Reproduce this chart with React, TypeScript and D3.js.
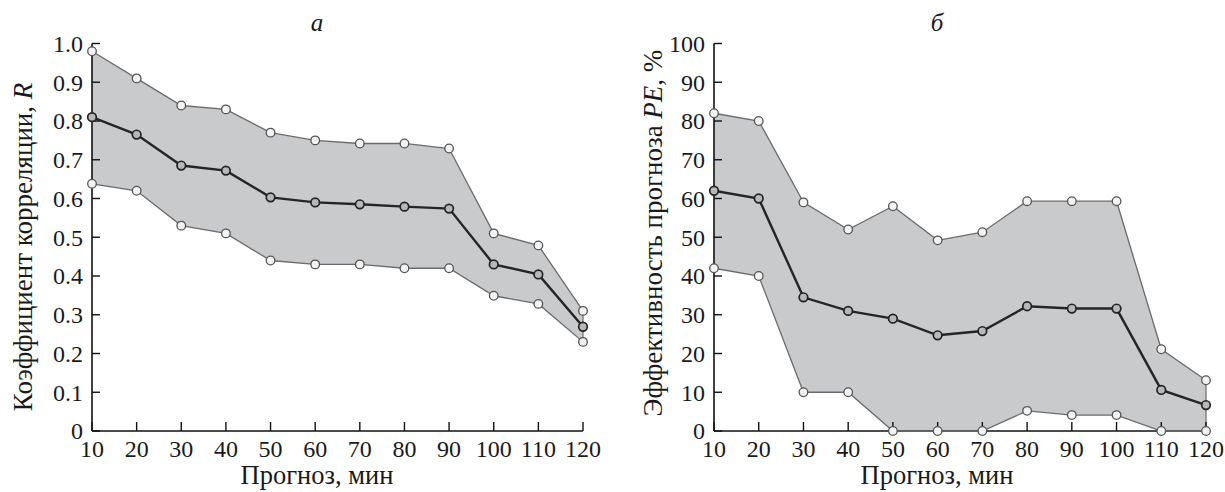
import React from "react";
import * as d3 from "d3";

const leadTimes = [10, 20, 30, 40, 50, 60, 70, 80, 90, 100, 110, 120];

const rUpper = [0.98, 0.91, 0.84, 0.83, 0.77, 0.75, 0.742, 0.742, 0.729, 0.51, 0.479, 0.31];
const rMean = [0.81, 0.765, 0.685, 0.672, 0.603, 0.59, 0.585, 0.579, 0.574, 0.43, 0.404, 0.269];
const rLower = [0.638, 0.62, 0.53, 0.51, 0.44, 0.43, 0.43, 0.42, 0.42, 0.349, 0.328, 0.23];

const peUpper = [82, 80, 59, 52, 58, 49.2, 51.3, 59.3, 59.3, 59.3, 21.1, 13.1];
const peMean = [62, 60, 34.5, 31, 29, 24.7, 25.8, 32.2, 31.6, 31.6, 10.6, 6.7];
const peLower = [42, 40, 10, 10, 0, 0, 0, 5.2, 4.1, 4.1, 0, 0];

const rTicks = [0, 0.1, 0.2, 0.3, 0.4, 0.5, 0.6, 0.7, 0.8, 0.9, 1.0];
const rTickLabels = ["0", "0.1", "0.2", "0.3", "0.4", "0.5", "0.6", "0.7", "0.8", "0.9", "1.0"];
const peTicks = [0, 10, 20, 30, 40, 50, 60, 70, 80, 90, 100];

const FONT = "Liberation Serif, Times New Roman, Times, DejaVu Serif, serif";

type PanelProps = {
  x0: number;
  x1: number;
  yMax: number;
  upper: number[];
  mean: number[];
  lower: number[];
  yTicks: number[];
  yTickLabels: string[];
  yLabel: React.ReactNode;
  yLabelX: number;
  yLabelY: number;
  panelLetter: string;
  letterX: number;
};

function Panel(p: PanelProps) {
  const yTop = 43.5;
  const yBottom = 431;
  const x = d3.scaleLinear().domain([10, 120]).range([p.x0, p.x1]);
  const y = d3.scaleLinear().domain([0, p.yMax]).range([yBottom, yTop]);

  const pts = leadTimes.map((t, i) => ({ t, u: p.upper[i], m: p.mean[i], l: p.lower[i] }));

  const area = d3
    .area<typeof pts[number]>()
    .x((d) => x(d.t))
    .y0((d) => y(d.l))
    .y1((d) => y(d.u));
  const lineU = d3.line<typeof pts[number]>().x((d) => x(d.t)).y((d) => y(d.u));
  const lineL = d3.line<typeof pts[number]>().x((d) => x(d.t)).y((d) => y(d.l));
  const lineM = d3.line<typeof pts[number]>().x((d) => x(d.t)).y((d) => y(d.m));

  const boundColor = "#6b6b6b";
  const textStyle = { fontFamily: FONT };

  return (
    <g>
      <path d={area(pts) || ""} fill="#c9cacc" stroke="none" />
      <line
        x1={x(120)}
        x2={x(120)}
        y1={y(p.upper[11])}
        y2={y(p.lower[11])}
        stroke={boundColor}
        strokeWidth={1.2}
      />
      <line x1={p.x0} x2={p.x0} y1={yBottom} y2={yTop} stroke="#111" strokeWidth={1.6} />
      <line x1={p.x0} x2={p.x1} y1={yBottom} y2={yBottom} stroke="#111" strokeWidth={1.6} />
      {p.yTicks.map((v, i) => (
        <g key={"yt" + i}>
          <line x1={p.x0} x2={p.x0 + 8} y1={y(v)} y2={y(v)} stroke="#111" strokeWidth={1.4} />
          <text
            x={p.x0 - 9}
            y={y(v)}
            dy="0.35em"
            textAnchor="end"
            style={textStyle}
            fontSize={24}
            fill="#1a1a1a"
          >
            {p.yTickLabels[i]}
          </text>
        </g>
      ))}
      {leadTimes.map((t) => (
        <g key={"xt" + t}>
          <line x1={x(t)} x2={x(t)} y1={yBottom} y2={yBottom - 9} stroke="#111" strokeWidth={1.4} />
          <text x={x(t)} y={457} textAnchor="middle" style={textStyle} fontSize={24} fill="#1a1a1a">
            {t}
          </text>
        </g>
      ))}
      <text
        x={p.letterX}
        y={484}
        textAnchor="middle"
        style={textStyle}
        fontSize={26.5}
        fill="#1a1a1a"
      >
        Прогноз, мин
      </text>
      <text
        transform={`translate(${p.yLabelX},${p.yLabelY}) rotate(-90)`}
        textAnchor="middle"
        style={textStyle}
        fontSize={27}
        fill="#1a1a1a"
      >
        {p.yLabel}
      </text>
      <text
        x={p.letterX}
        y={31}
        textAnchor="middle"
        style={textStyle}
        fontStyle="italic"
        fontSize={25}
        fill="#1a1a1a"
      >
        {p.panelLetter}
      </text>

      <path d={lineU(pts) || ""} fill="none" stroke={boundColor} strokeWidth={1.3} />
      <path d={lineL(pts) || ""} fill="none" stroke={boundColor} strokeWidth={1.3} />
      <path d={lineM(pts) || ""} fill="none" stroke="#252525" strokeWidth={2.4} />

      {pts.map((d, i) => (
        <g key={"c" + i}>
          <circle cx={x(d.t)} cy={y(d.u)} r={4.3} fill="#f2f2f2" stroke="#555" strokeWidth={1.3} />
          <circle cx={x(d.t)} cy={y(d.l)} r={4.3} fill="#f2f2f2" stroke="#555" strokeWidth={1.3} />
          <circle cx={x(d.t)} cy={y(d.m)} r={4.3} fill="#b8b8b8" stroke="#222" strokeWidth={1.7} />
        </g>
      ))}
    </g>
  );
}

export default function App() {
  return (
    <svg
      width={1225}
      height={492}
      viewBox="0 0 1225 492"
      style={{ position: "absolute", left: 0, top: 0, background: "#fff" }}
    >
      <rect x={0} y={0} width={1225} height={492} fill="#fff" />
      <Panel
        x0={92}
        x1={583}
        yMax={1.0}
        upper={rUpper}
        mean={rMean}
        lower={rLower}
        yTicks={rTicks}
        yTickLabels={rTickLabels}
        yLabel={
          <>
            Коэффициент корреляции, <tspan fontStyle="italic">R</tspan>
          </>
        }
        yLabelX={32}
        yLabelY={247}
        panelLetter="а"
        letterX={317}
      />
      <Panel
        x0={714}
        x1={1206}
        yMax={100}
        upper={peUpper}
        mean={peMean}
        lower={peLower}
        yTicks={peTicks}
        yTickLabels={peTicks.map(String)}
        yLabel={
          <>
            Эффективность прогноза <tspan fontStyle="italic">PE</tspan>, %
          </>
        }
        yLabelX={662}
        yLabelY={233}
        panelLetter="б"
        letterX={937}
      />
    </svg>
  );
}
